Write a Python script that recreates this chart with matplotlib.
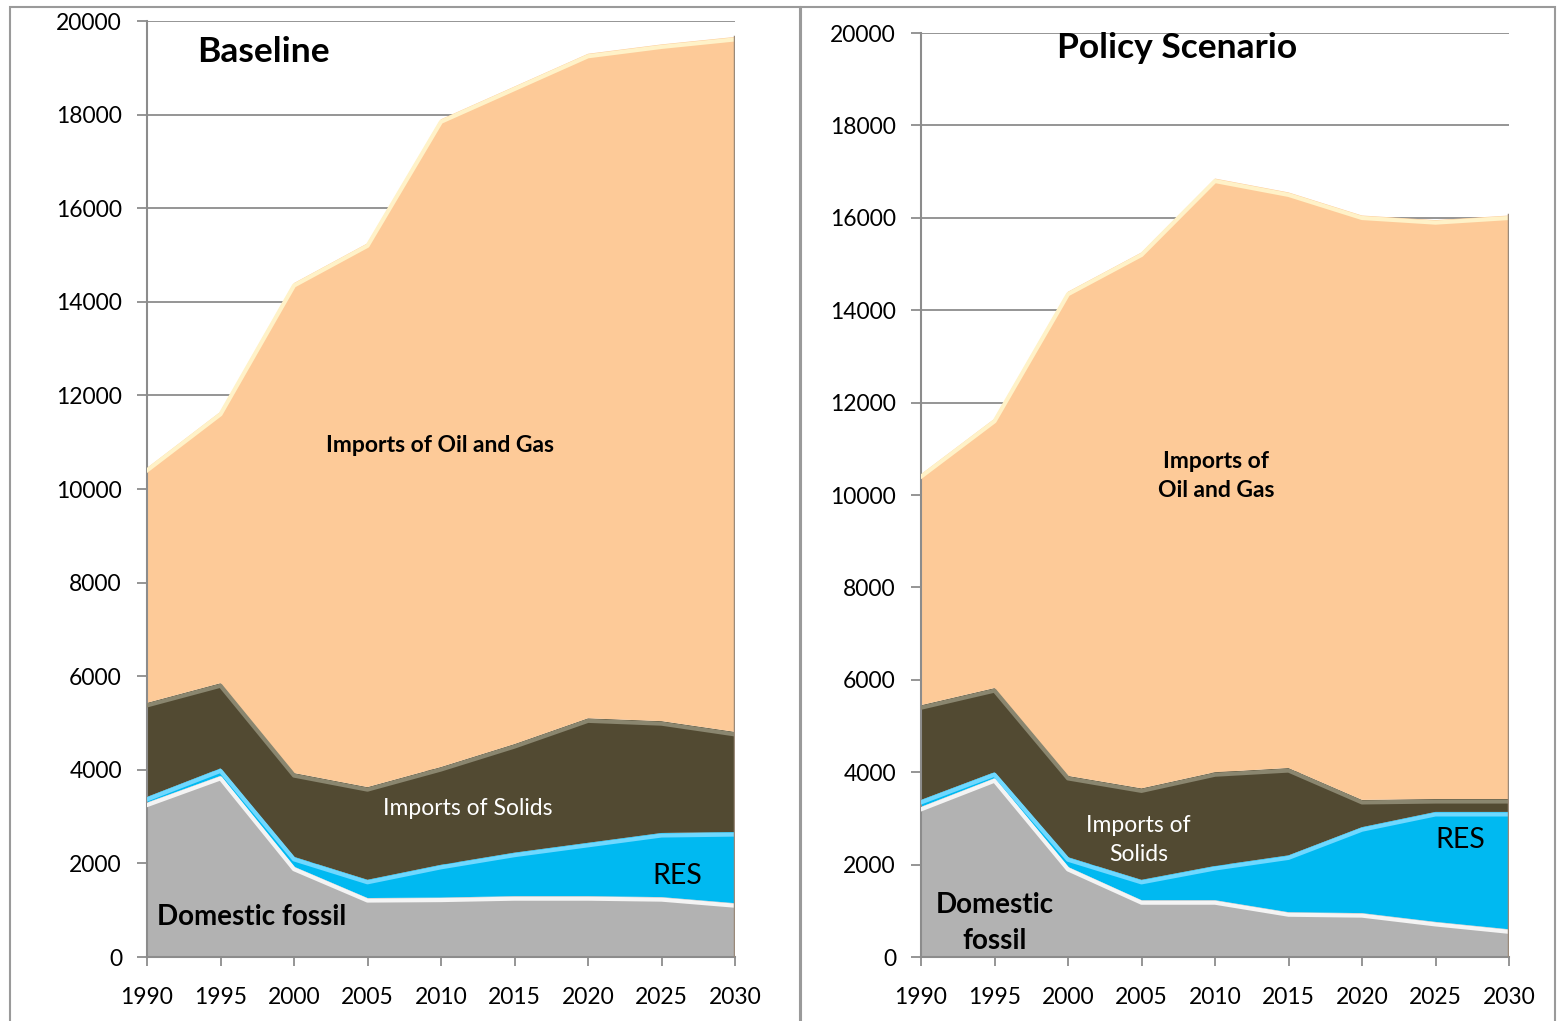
import numpy as np
import matplotlib
matplotlib.use("Agg")
import matplotlib.pyplot as plt
from matplotlib.transforms import offset_copy

plt.rcParams['font.family'] = ['Lato', 'DejaVu Sans']

years = [1990, 1995, 2000, 2005, 2010, 2015, 2020, 2025, 2030]

# Baseline: ktoe by source, stacked bottom to top
base_domestic = [3300, 3870, 1930, 1260, 1270, 1300, 1300, 1280, 1150]
base_res = [120, 160, 210, 390, 700, 930, 1140, 1370, 1520]
base_solids = [2010, 1820, 1790, 1980, 2090, 2320, 2660, 2390, 2140]
base_oilgas = [5020, 5800, 10470, 11620, 13840, 14050, 14200, 14460, 14850]

# Policy scenario
pol_domestic = [3250, 3870, 1950, 1230, 1230, 970, 950, 760, 600]
pol_res = [150, 130, 210, 440, 740, 1230, 1860, 2380, 2540]
pol_solids = [2050, 1820, 1760, 1980, 2030, 1890, 590, 280, 280]
pol_oilgas = [5000, 5830, 10480, 11600, 12850, 12460, 12650, 12530, 12630]

colors = ['#b2b2b2', '#00b9f1', '#524a32', '#fdca98']
highlights = ['#f4f4f4', '#6fd8ff', '#8a866f', '#fff2c8']
grid_col = '#8c8c8c'

fig = plt.figure(figsize=(15.58, 10.21), dpi=100)
W, H = 1558, 1021

# panel frames
for x0, x1 in [(10, 800), (801, 1555)]:
    fig.add_artist(plt.Rectangle((x0 / W, -0.02), (x1 - x0) / W, 1.02 - 7 / H,
                                 transform=fig.transFigure, fill=False,
                                 edgecolor='#9a9a9a', lw=1.5))


def panel(rect, layers, title, title_xy, labels):
    ax = fig.add_axes(rect)
    ax.stackplot(years, *layers, colors=colors, lw=0, zorder=2)
    # bevel-like highlight along the top of each layer
    tops = np.cumsum(np.array(layers), axis=0)
    shift = offset_copy(ax.transData, fig=fig, y=-2.5, units='dots')
    for top, hc in zip(tops, highlights):
        ax.plot(years, top, color=hc, lw=3, transform=shift, zorder=3,
                solid_joinstyle='round')
    # shadow on right edge
    ax.plot([2030, 2030], [0, tops[-1][-1]], color='#9a8a7a', lw=2.5, zorder=3)

    ax.set_xlim(1990, 2030)
    ax.set_ylim(0, 20000)
    ax.set_xticks(years)
    ax.set_yticks(range(0, 20001, 2000))
    ax.grid(axis='y', color=grid_col, lw=1.3, zorder=0)
    ax.set_axisbelow(True)
    for s in ['top', 'right']:
        ax.spines[s].set_visible(False)
    for s in ['left', 'bottom']:
        ax.spines[s].set_color(grid_col)
        ax.spines[s].set_linewidth(1.5)
    ax.tick_params(axis='y', length=7, width=1.3, color=grid_col, pad=11,
                   labelsize=16.5)
    ax.tick_params(axis='x', length=6.5, width=1.3, color=grid_col, pad=15,
                   labelsize=16.5)

    ax.text(*title_xy, title, fontsize=25.5, fontweight='bold', ha='center',
            va='center', zorder=5)
    for x, y, txt, kw in labels:
        ax.text(x, y, txt, ha='center', va='center', zorder=5,
                linespacing=1.45, **kw)
    return ax


bold = dict(fontsize=16.5, fontweight='bold', color='black')
white = dict(fontsize=16.5, color='white')
res_kw = dict(fontsize=20.5, color='black')
dom_kw = dict(fontsize=20, fontweight='bold', color='black')

panel([147 / W, 64 / H, 588 / W, 936 / H],
      [base_domestic, base_res, base_solids, base_oilgas],
      'Baseline', (1997.9, 19340),
      [(2009.9, 10920, 'Imports of Oil and Gas', bold),
       (2011.8, 3180, 'Imports of Solids', white),
       (2026.1, 1730, 'RES', res_kw),
       (1997.1, 855, 'Domestic fossil', dom_kw)])

panel([921 / W, 64 / H, 588 / W, 924 / H],
      [pol_domestic, pol_res, pol_solids, pol_oilgas],
      'Policy Scenario', (2007.4, 19675),
      [(2010.1, 10410, 'Imports of\nOil and Gas', bold),
       (2004.8, 2530, 'Imports of\nSolids', white),
       (2026.7, 2530, 'RES', res_kw),
       (1995.0, 735, 'Domestic\nfossil', dom_kw)])

fig.savefig('out.png', dpi=100)
